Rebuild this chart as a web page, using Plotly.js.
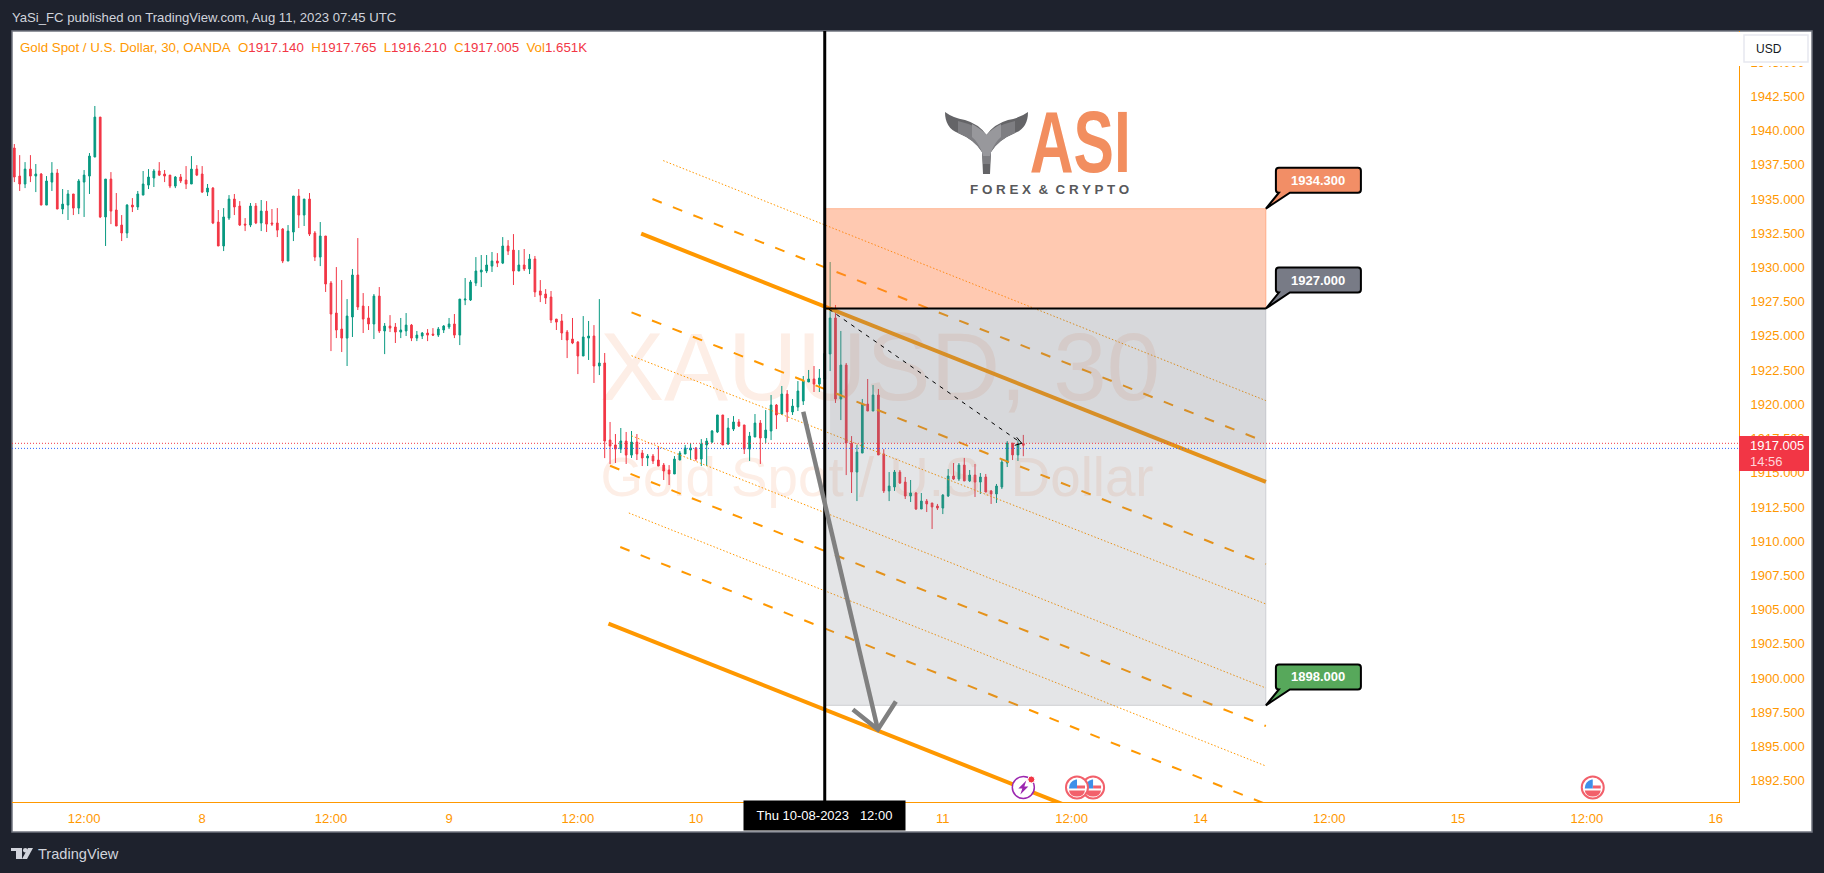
<!DOCTYPE html>
<html>
<head>
<meta charset="utf-8">
<script src="https://cdn.plot.ly/plotly-3.0.1.min.js"></script>
<style>html,body{margin:0;padding:0;background:#1e222d;overflow:hidden}#chart{width:1824px;height:873px}</style>
</head>
<body>
<div id="chart"></div>
<script>
const open_ = [1938.73,1936.68,1936.10,1937.19,1936.68,1936.83,1934.56,1936.24,1936.90,1934.27,1934.56,1935.37,1934.34,1936.24,1936.68,1938.07,1940.99,1933.69,1936.46,1934.20,1933.10,1932.52,1934.56,1934.42,1935.29,1936.02,1936.54,1937.05,1936.83,1936.75,1935.95,1936.61,1936.39,1936.10,1937.19,1936.83,1935.51,1935.80,1933.32,1931.57,1933.61,1935.00,1934.49,1933.17,1933.10,1934.49,1933.25,1934.12,1933.25,1933.25,1932.81,1930.47,1932.59,1935.22,1933.83,1935.00,1932.52,
1930.76,1932.30,1928.86,1926.67,1925.50,1924.84,1926.38,1929.45,1927.18,1926.31,1925.87,1927.91,1925.36,1925.72,1925.65,1925.28,1925.36,1925.79,1924.84,1924.99,1925.21,1925.13,1925.06,1925.43,1925.65,1925.87,1925.06,1927.62,1927.62,1928.86,1929.67,1929.74,1930.10,1930.47,1930.32,1931.57,1931.27,1929.74,1930.18,1929.89,1930.62,1928.28,1928.06,1927.84,1926.23,1926.09,1925.28,1924.77,1924.55,1923.53,1924.84,1924.99,1922.80,1923.02,1917.39,1917.03,
1916.73,1917.32,1916.29,1917.24,1916.44,1916.08,1916.22,1915.93,1915.56,1915.20,1914.91,1915.93,1916.37,1916.66,1916.81,1916.00,1917.03,1917.24,1917.98,1919.22,1917.10,1918.19,1918.71,1918.49,1916.73,1917.61,1918.63,1917.54,1918.05,1919.95,1919.29,1920.75,1919.44,1919.80,1920.24,1921.63,1921.85,1921.48,
1921.85,1923.68,1926.31,1920.39,1922.87,1917.17,1915.05,1916.44,1920.02,1919.51,1920.68,1916.37,1913.67,1913.96,1915.05,1914.32,1913.30,1913.52,1912.35,1912.93,1912.79,1912.57,1912.42,1913.30,1914.76,1914.54,1915.56,1914.40,1914.83,1914.32,1914.69,1913.67,1913.45,1913.96,1915.71,1917.17,1916.30,1917.14];
const high_ = [1939.02,1938.21,1937.70,1938.21,1937.56,1936.90,1936.68,1937.70,1937.19,1935.73,1935.66,1935.37,1936.46,1937.12,1938.36,1941.80,1940.99,1936.46,1936.97,1935.44,1933.83,1934.63,1935.07,1935.59,1937.05,1937.19,1937.19,1937.70,1937.12,1936.75,1936.68,1936.83,1937.41,1938.14,1937.48,1937.41,1936.10,1935.88,1934.20,1934.34,1935.29,1935.37,1934.85,1933.61,1934.71,1934.71,1934.93,1934.85,1934.27,1934.34,1932.88,1933.10,1935.22,1935.73,1935.00,1935.44,1932.66,
1933.32,1932.30,1929.01,1930.03,1929.08,1927.69,1929.89,1932.15,1928.13,1927.18,1928.06,1928.57,1925.94,1926.52,1925.94,1926.31,1926.67,1925.87,1925.36,1925.28,1925.50,1925.57,1925.65,1925.79,1926.31,1926.60,1927.69,1929.23,1929.08,1930.76,1930.91,1930.91,1931.13,1931.05,1932.22,1932.00,1932.44,1931.27,1931.35,1930.98,1930.84,1929.08,1928.42,1928.28,1926.23,1926.60,1925.43,1926.31,1924.62,1926.45,1926.09,1925.79,1927.69,1923.75,1918.71,1917.83,
1918.27,1917.98,1918.05,1917.83,1916.66,1916.37,1916.37,1916.95,1915.71,1915.56,1916.22,1916.59,1917.03,1917.17,1916.88,1917.46,1917.54,1918.12,1919.22,1919.22,1919.00,1919.14,1918.92,1918.49,1917.98,1919.29,1918.85,1919.58,1920.68,1920.02,1921.34,1921.04,1920.39,1921.70,1922.07,1922.51,1922.80,1922.58,
1924.02,1930.40,1927.26,1925.36,1923.02,1917.68,1917.03,1920.39,1921.85,1921.41,1921.12,1916.73,1915.05,1915.20,1915.20,1914.69,1914.47,1913.59,1913.52,1913.08,1912.79,1912.72,1913.44,1915.27,1915.71,1915.71,1916.08,1915.20,1915.64,1914.98,1914.91,1913.74,1914.18,1916.00,1917.32,1917.17,1917.39,1917.765];
const low_ = [1936.24,1935.59,1935.80,1936.24,1935.51,1934.56,1934.56,1935.59,1934.27,1933.90,1933.47,1933.83,1933.90,1933.69,1935.37,1938.07,1933.61,1931.57,1933.17,1933.03,1931.93,1932.15,1934.05,1934.20,1935.29,1935.73,1935.88,1936.68,1936.24,1935.80,1935.80,1936.17,1935.73,1936.10,1936.68,1935.44,1935.22,1933.17,1931.57,1931.20,1933.47,1933.83,1933.03,1932.66,1932.95,1933.17,1932.66,1932.59,1933.03,1932.22,1930.32,1930.47,1931.93,1932.88,1933.03,1932.30,1930.47,
1930.10,1928.21,1923.89,1924.84,1923.82,1922.80,1924.92,1926.89,1925.21,1925.43,1924.77,1925.21,1923.67,1925.28,1924.48,1924.84,1924.99,1924.62,1924.62,1924.77,1924.62,1924.99,1924.92,1925.21,1925.50,1924.84,1924.33,1927.25,1927.55,1928.64,1928.57,1929.59,1929.67,1930.03,1930.25,1930.91,1928.72,1929.74,1929.74,1929.52,1927.84,1927.47,1927.33,1925.94,1925.43,1924.70,1923.38,1924.40,1922.21,1923.53,1923.24,1921.56,1922.14,1916.07,1915.64,1915.71,
1916.44,1915.64,1916.08,1915.93,1915.49,1915.49,1915.64,1915.49,1914.47,1914.10,1914.91,1915.93,1916.37,1915.93,1915.86,1915.49,1915.49,1917.17,1917.90,1917.03,1917.03,1918.05,1918.34,1916.37,1915.86,1917.61,1915.64,1917.17,1917.39,1918.19,1919.22,1918.71,1919.22,1919.51,1919.95,1921.63,1920.90,1920.90,
1921.53,1922.43,1920.10,1918.85,1914.83,1913.52,1912.93,1916.44,1919.51,1919.51,1916.30,1913.52,1912.93,1913.67,1914.18,1913.08,1912.86,1912.28,1912.35,1912.13,1910.89,1912.28,1911.98,1913.23,1914.47,1914.40,1914.40,1914.32,1913.23,1913.45,1913.59,1912.72,1912.79,1913.81,1915.42,1915.93,1915.86,1916.21];
const close_ = [1936.61,1936.10,1937.19,1936.68,1936.83,1934.56,1936.32,1936.90,1934.27,1934.63,1935.37,1934.34,1936.32,1936.75,1938.14,1940.99,1933.69,1936.46,1934.12,1933.03,1932.52,1934.56,1934.42,1935.37,1936.10,1936.61,1937.05,1936.75,1936.68,1935.95,1936.61,1936.32,1936.10,1937.19,1936.75,1935.51,1935.80,1933.25,1931.57,1933.69,1935.00,1934.42,1933.10,1933.10,1934.49,1933.25,1934.12,1933.17,1933.17,1932.73,1930.47,1932.66,1935.22,1933.83,1935.00,1932.44,1930.76,
1932.30,1928.79,1926.60,1925.43,1924.84,1926.45,1929.45,1927.11,1926.23,1925.87,1927.91,1925.36,1925.72,1925.57,1925.28,1925.43,1925.79,1924.84,1925.06,1925.21,1925.06,1925.06,1925.50,1925.72,1925.87,1925.06,1927.69,1927.69,1928.94,1929.74,1929.81,1930.18,1930.47,1930.32,1931.57,1931.20,1929.74,1930.18,1929.89,1930.62,1928.21,1927.98,1927.77,1926.16,1926.01,1925.21,1924.70,1924.48,1923.53,1924.92,1924.99,1922.80,1923.02,1917.32,1916.95,1916.73,
1917.32,1916.29,1917.24,1916.37,1916.08,1916.22,1915.86,1915.49,1915.13,1914.91,1916.00,1916.44,1916.81,1916.81,1916.00,1917.10,1917.32,1918.05,1919.22,1917.03,1918.27,1918.71,1918.41,1916.73,1917.68,1918.63,1917.54,1918.12,1919.95,1919.22,1920.75,1919.44,1919.87,1920.97,1921.70,1921.85,1921.48,1921.92,
1923.72,1926.31,1920.39,1922.87,1917.17,1915.05,1916.51,1920.02,1919.51,1920.68,1916.30,1913.67,1914.03,1915.05,1914.25,1913.30,1913.52,1912.35,1912.93,1912.72,1912.50,1912.42,1913.37,1914.76,1914.54,1915.56,1914.40,1914.83,1914.32,1914.69,1913.59,1913.45,1914.03,1915.78,1917.17,1916.30,1917.14,1917.005];

const xTickBars = [13,35,59,81,105,127,173,197,221,245,269,293,317];
const xTickText = ["12:00","8","12:00","9","12:00","10","11","12:00","14","12:00","15","12:00","16"];
const yTickVals = [1892.5,1895,1897.5,1900,1902.5,1905,1907.5,1910,1912.5,1915,1917.5,1920,1922.5,1925,1927.5,1930,1932.5,1935,1937.5,1940,1942.5,1945];

// channel levels: [start bar, end bar] and [start price, end price]
const channelBars = [[120.9,233.2],[118.9,233.2],[116.8,233.2],[115,233.2],[115,233.2],[115,233.2],[111,233.2],[114.5,233.2],[112.9,233.2],[110.7,233.2]];
const channelPrices = [[1937.81,1920.27],[1935.00,1917.24],[1932.47,1914.34],[1926.72,1908.33],[1923.55,1905.41],[1917.70,1899.27],[1915.51,1896.49],[1912.06,1893.57],[1909.57,1890.79],[1903.98,1884.88]];
const channelKinds = ["dot","dash","thick","dash","dot","dot","dash","dot","dash","thick"];

const levels = {target:1934.3, entry:1927, stop:1898, bid:1917.15, ask:1916.78};
const zoneStart = 151, zoneEnd = 233.2;

const ORANGE="#ff9800", RED="#f23645", GREEN="#089981", FONT='"Liberation Sans", Arial, sans-serif';
const L=12,T=31,W=1727,H=771;
const px = v=>(v-L)/W, py = v=>(T+H-v)/H;
const bars = close_.map((_,i)=>i);

const traces = [{
  type:"candlestick", x:bars, open:open_, high:high_, low:low_, close:close_,
  increasing:{line:{color:GREEN,width:1},fillcolor:GREEN},
  decreasing:{line:{color:RED,width:1},fillcolor:RED},
  whiskerwidth:0, hoverinfo:"skip", showlegend:false
}];
channelKinds.forEach((k,i)=>{
  traces.push({type:"scatter",mode:"lines",x:channelBars[i],y:channelPrices[i],hoverinfo:"skip",showlegend:false,
    line:{color:ORANGE,width:k==="thick"?4:k==="dash"?2:1,dash:k==="dash"?"10px,12px":k==="dot"?"1.5px,2px":"solid"}});
});

const flip = p => p.replace(/(-?[\d.]+),(-?[\d.]+)/g,(m,a,b)=>a+","+(-parseFloat(b)));
function pixPath(xa,ya,path,fill,lc,lw,paper){
  return {type:"path",layer:"above",xref:paper?"paper":"x",yref:paper?"paper":"y",xsizemode:"pixel",ysizemode:"pixel",
    xanchor:xa,yanchor:ya,path:flip(path),fillcolor:fill||"rgba(0,0,0,0)",line:{color:lc||"rgba(0,0,0,0)",width:lw||0}};
}
function pixCircle(xa,ya,cx,cy,r,fill,lc,lw){
  return {type:"circle",layer:"above",xref:"x",yref:"y",xsizemode:"pixel",ysizemode:"pixel",xanchor:xa,yanchor:ya,
    x0:cx-r,x1:cx+r,y0:-cy-r,y1:-cy+r,fillcolor:fill,line:{color:lc||"rgba(0,0,0,0)",width:lw||0}};
}
const callout = "M0,0 L13,-16 Q10,-16 10,-19 L10,-38 Q10,-41 13,-41 L92,-41 Q95,-41 95,-38 L95,-19 Q95,-16 92,-16 L24,-16 Z";

function flag(idx,price){
  return [
    pixCircle(idx,price,0,0,11,"#ffffff","#f2606b",2),
    pixPath(idx,price,"M-8,3 L8,3 Q7,9 0,9 Q-7,9 -8,3 Z","#f2606b"),
    pixPath(idx,price,"M0,-2 L8,-2 L8,1 L0,1 Z","#f2606b"),
    pixPath(idx,price,"M-1,-8 L0,-8 L0,1 L-8,1 Q-8,-6 -1,-8 Z","#3f8fe8")
  ];
}

const shapes = [
  // white chart panel
  {type:"rect",layer:"below",xref:"paper",yref:"paper",x0:0,x1:px(1812),y0:py(832),y1:1,fillcolor:"#ffffff",line:{color:"#70747f",width:1.5}},
  // watermarks
  {type:"rect",layer:"below",xref:"paper",yref:"paper",x0:px(560),x1:px(1200),y0:py(412),y1:py(302),fillcolor:"rgba(0,0,0,0)",line:{width:0},
   label:{text:"XAUUSD, 30",textposition:"middle center",font:{family:FONT,size:96,color:"#fdeee6"}}},
  {type:"rect",layer:"below",xref:"paper",yref:"paper",x0:px(557),x1:px(1197),y0:py(502),y1:py(442),fillcolor:"rgba(0,0,0,0)",line:{width:0},
   label:{text:"Gold Spot / U.S. Dollar",textposition:"middle center",font:{family:FONT,size:54.7,color:"#fdeee6"}}},
  // zones
  {type:"rect",layer:"above",xref:"x",yref:"y",x0:zoneStart,x1:zoneEnd,y0:levels.entry,y1:levels.stop,fillcolor:"rgba(120,123,134,0.2)",line:{color:"rgba(120,123,134,0.25)",width:1}},
  {type:"rect",layer:"above",xref:"x",yref:"y",x0:zoneStart+1,x1:zoneEnd,y0:levels.entry,y1:levels.bid,fillcolor:"rgba(120,123,134,0.12)",line:{width:0}},
  {type:"rect",layer:"above",xref:"x",yref:"y",x0:zoneStart,x1:zoneEnd,y0:levels.entry,y1:levels.target,fillcolor:"rgba(255,121,61,0.4)",line:{color:"rgba(255,121,61,0.45)",width:1}},
  // price lines
  {type:"line",layer:"above",xref:"paper",yref:"y",x0:0,x1:1,y0:levels.bid,y1:levels.bid,line:{color:RED,width:1,dash:"1px,2px"}},
  {type:"line",layer:"above",xref:"paper",yref:"y",x0:0,x1:1,y0:levels.ask,y1:levels.ask,line:{color:"#2962ff",width:1,dash:"1px,2px"}},
  // crosshair & entry line
  {type:"line",layer:"above",xref:"x",yref:"paper",x0:151,x1:151,y0:0,y1:1,line:{color:"#000000",width:3}},
  {type:"line",layer:"above",xref:"x",yref:"y",x0:zoneStart,x1:zoneEnd,y0:levels.entry,y1:levels.entry,line:{color:"#000000",width:2}},
  // dashed projection
  {type:"line",layer:"above",xref:"x",yref:"y",x0:151.8,x1:187.7,y0:1926.95,y1:1917.15,line:{color:"#000000",width:1,dash:"4px,5px"}},
  pixPath(187.7,1917.15,"M-5,-6 L0,0 L-7,2","rgba(0,0,0,0)","#000000",1),
  // grey arrow
  {type:"line",layer:"above",xref:"x",yref:"y",x0:147,x1:160.9,y0:1919.46,y1:1896.24,line:{color:"#808080",width:4.5}},
  pixPath(160.9,1896.24,"M-25,-20 L0,0 L18,-28","rgba(0,0,0,0)","#808080",4.5),
  // callouts
  pixPath(zoneEnd,levels.target,callout,"#f28e66","#000000",2),
  pixPath(zoneEnd,levels.entry,callout,"#787b86","#000000",2),
  pixPath(zoneEnd,levels.stop,callout,"#57a85b","#000000",2),
  // axis panel corner + last price tag
  {type:"rect",layer:"above",xref:"paper",yref:"paper",x0:px(1738),x1:px(1811),y0:py(66),y1:py(32),fillcolor:"#ffffff",line:{width:0}},
  {type:"rect",layer:"above",xref:"paper",yref:"paper",x0:px(1744),x1:px(1808),y0:py(62),y1:py(35),fillcolor:"#ffffff",line:{color:"#e6e8f0",width:1.5}},
  {type:"rect",layer:"above",xref:"paper",yref:"paper",x0:px(1739),x1:px(1809),y0:py(471),y1:py(436),fillcolor:RED,line:{width:0}},
  // event icons
  ...flag(294.1,1892),...flag(201,1892),...flag(198,1892),
  pixCircle(188,1892,0,0,11,"#ffffff","#9c27b0",1.5),
  pixPath(188,1892,"M3,-7 L-5,1 L-1,1 L-3,7 L5,-1 L1,-1 Z","#9c27b0"),
  pixCircle(188,1892,8,-8,3.5,RED,"#ffffff",1),
  // whale tail logo
  pixPath(px(920),py(100),"M25,12 Q25,28 38,33 Q55,40 62,52 L63,74 L70,74 L71,52 Q78,40 95,33 Q108,28 108,12 Q100,18 88,20 Q74,24 66.5,35 Q59,24 45,20 Q33,18 25,12 Z","#646467",null,0,true),
  pixPath(px(920),py(100),"M38,21 Q59,26 66.5,35 Q74,26 95,21 L95,33 Q78,40 71,52 L70,64 L63,64 L62,52 Q55,40 38,33 Z","#7e7e82",null,0,true),
  pixPath(px(920),py(100),"M52,24 Q60,28 66.5,35 Q73,28 81,24 L81,37 Q75,42 71,52 L70,56 L63,56 L62,52 Q58,42 52,37 Z","#98989c",null,0,true),
  // TradingView footer mark
  pixPath(px(11),py(848),"M0,0 L11,0 L11,11 L5,11 L5,3 L0,3 Z","#d1d4dc",null,0,true),
  pixPath(px(11),py(848),"M17,0 L22,0 L16,11 L11,11 Z","#d1d4dc",null,0,true),
  {type:"circle",layer:"above",xref:"paper",yref:"paper",x0:px(23),x1:px(27.5),y0:py(852.5),y1:py(848),fillcolor:"#d1d4dc",line:{width:0}}
];

function txt(x,y,text,size,color,extra){
  return Object.assign({xref:"paper",yref:"paper",x:px(x),y:py(y),text:text,showarrow:false,xanchor:"left",yanchor:"middle",
    font:{family:FONT,size:size,color:color}},extra||{});
}
function tag(price,label){
  return {xref:"x",yref:"y",x:zoneEnd,y:price,xshift:52.5,yshift:28.5,text:label,showarrow:false,font:{family:FONT,size:13,color:"#ffffff",weight:700}};
}
const S=c=>'<span style="color:'+RED+'">'+c+'</span>';
const annotations = [
  txt(10,17,"YaSi_FC published on TradingView.com, Aug 11, 2023 07:45 UTC",13.15,"#d1d4dc"),
  txt(17.5,47,"Gold Spot / U.S. Dollar, 30, OANDA&nbsp;&nbsp;O"+S("1917.140")+"&nbsp;&nbsp;H"+S("1917.765")+"&nbsp;&nbsp;L"+S("1916.210")+"&nbsp;&nbsp;C"+S("1917.005")+"&nbsp;&nbsp;Vol"+S("1.651K"),13.3,ORANGE),
  txt(36,854,"TradingView",14.6,"#d1d4dc"),
  txt(1754,48.5,"USD",12,"#131722"),
  txt(1748,445,"1917.005",13,"#ffffff"),
  txt(1748,461.5,"14:56",13,"#ffd5d9"),
  tag(levels.target,"1934.300"),tag(levels.entry,"1927.000"),tag(levels.stop,"1898.000"),
  {xref:"x",yref:"paper",x:151,y:py(815.5),yanchor:"middle",xanchor:"center",width:159,height:27,bgcolor:"#000000",text:"Thu 10-08-2023&nbsp;&nbsp;&nbsp;12:00",showarrow:false,font:{family:FONT,size:13,color:"#ffffff"}},
  txt(1080,141,"ASI",88,"#f28e5f",{xanchor:"center",font:{family:FONT,size:88,color:"#f28e5f",weight:700}}),
  txt(1049,189,"F O R E X &nbsp;&amp;&nbsp; C R Y P T O",13.4,"#58595b",{xanchor:"center",font:{family:FONT,size:13.4,color:"#58595b",weight:700}})
];

const layout = {
  width:1824,height:873,autosize:false,
  margin:{l:L,r:85,t:T,b:71,pad:0},
  paper_bgcolor:"#1e222d",plot_bgcolor:"rgba(0,0,0,0)",
  showlegend:false,dragmode:false,hovermode:false,boxgap:0.55,
  xaxis:{type:"linear",range:[-0.434,321.35],showgrid:false,zeroline:false,showline:true,linecolor:ORANGE,linewidth:1,
    tickmode:"array",tickvals:xTickBars,ticktext:xTickText,ticks:"",tickfont:{family:FONT,size:13,color:ORANGE},ticklabelstandoff:4,
    rangeslider:{visible:false},fixedrange:true},
  yaxis:{side:"right",range:[1890.94,1947.28],showgrid:false,zeroline:false,showline:true,linecolor:ORANGE,linewidth:1,
    tickmode:"array",tickvals:yTickVals,tickformat:".3f",ticks:"",tickfont:{family:FONT,size:13,color:ORANGE},ticklabelstandoff:8,fixedrange:true},
  shapes:shapes,annotations:annotations
};
Plotly.newPlot("chart",traces,layout,{displayModeBar:false,staticPlot:true}).then(gd=>{
  // the logo lettering is condensed: squeeze the real text to the logo's width
  gd.querySelectorAll(".annotation-text").forEach(t=>{
    if(t.textContent==="ASI"){t.setAttribute("textLength","101");t.setAttribute("lengthAdjust","spacingAndGlyphs");}
  });
});
</script>
</body>
</html>
